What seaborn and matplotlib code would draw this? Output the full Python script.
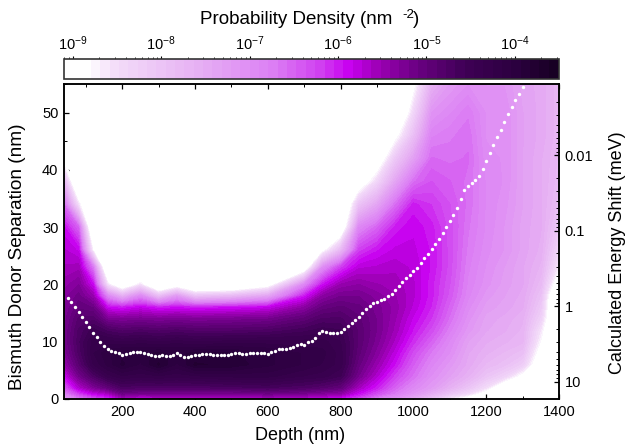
import numpy as np
import pandas as pd
import matplotlib
matplotlib.use("Agg")
import matplotlib.pyplot as plt
import seaborn as sns
from matplotlib.colors import LinearSegmentedColormap
from matplotlib.ticker import MultipleLocator, FixedLocator, FixedFormatter, NullFormatter

# log10 of the probability density, one list per depth
separations = [0, 1, 2, 4, 6, 8, 10, 12, 14, 16, 18, 20, 23, 26, 30, 34, 38, 42, 46, 50, 55]
density = {
    40: [-7.4, -6.8, -6.4, -5.9, -5.5, -5.3, -5.2, -5.2, -5.25, -5.3, -5.35, -5.45, -5.6, -5.7, -5.9, -6.6, -7.8, -9.2, -10, -10, -10],
    80: [-6.8, -6.2, -5.7, -5.2, -4.9, -4.75, -4.7, -4.75, -4.85, -5.0, -5.15, -5.3, -5.55, -5.85, -6.5, -8.6, -10, -10, -10, -10, -10],
    120: [-6.4, -5.8, -5.3, -4.75, -4.35, -4.25, -4.3, -4.5, -4.8, -5.1, -5.5, -5.9, -6.7, -8.8, -10, -10, -10, -10, -10, -10, -10],
    160: [-6.2, -5.6, -5.0, -4.4, -4.1, -4.05, -4.3, -4.7, -5.25, -5.9, -6.9, -8.6, -10, -10, -10, -10, -10, -10, -10, -10, -10],
    200: [-5.7, -5.1, -4.7, -4.25, -3.9, -3.95, -4.35, -4.8, -5.3, -6.0, -7.6, -9.6, -10, -10, -10, -10, -10, -10, -10, -10, -10],
    250: [-5.9, -5.2, -4.75, -4.3, -4.05, -3.95, -4.3, -4.75, -5.25, -5.85, -6.9, -8.6, -10, -10, -10, -10, -10, -10, -10, -10, -10],
    300: [-5.8, -5.2, -4.75, -4.25, -3.8, -3.9, -4.35, -4.8, -5.3, -6.0, -7.9, -10, -10, -10, -10, -10, -10, -10, -10, -10, -10],
    350: [-5.8, -5.2, -4.75, -4.3, -4.05, -3.95, -4.3, -4.75, -5.25, -5.95, -7.2, -9.3, -10, -10, -10, -10, -10, -10, -10, -10, -10],
    400: [-5.8, -5.2, -4.75, -4.25, -3.8, -3.9, -4.35, -4.8, -5.3, -6.0, -8.0, -10, -10, -10, -10, -10, -10, -10, -10, -10, -10],
    500: [-5.8, -5.2, -4.7, -4.2, -3.85, -3.9, -4.3, -4.8, -5.25, -5.95, -7.8, -10, -10, -10, -10, -10, -10, -10, -10, -10, -10],
    600: [-5.7, -5.1, -4.65, -4.2, -4.0, -4.0, -4.3, -4.75, -5.2, -5.85, -7.4, -9.2, -10, -10, -10, -10, -10, -10, -10, -10, -10],
    700: [-5.8, -5.2, -4.75, -4.35, -4.15, -4.15, -4.3, -4.6, -4.95, -5.4, -6.0, -6.9, -9.5, -10, -10, -10, -10, -10, -10, -10, -10],
    750: [-5.9, -5.3, -4.85, -4.4, -4.25, -4.2, -4.3, -4.5, -4.75, -5.05, -5.4, -5.95, -7.0, -9.0, -10, -10, -10, -10, -10, -10, -10],
    800: [-6.0, -5.4, -5.0, -4.55, -4.4, -4.4, -4.45, -4.55, -4.75, -4.95, -5.2, -5.5, -6.2, -7.8, -9.6, -10, -10, -10, -10, -10, -10],
    850: [-6.3, -5.9, -5.6, -5.2, -5.05, -4.95, -4.9, -4.9, -4.95, -5.05, -5.2, -5.4, -5.75, -6.2, -6.9, -8.0, -9.4, -10, -10, -10, -10],
    900: [-6.8, -6.3, -6.0, -5.7, -5.5, -5.35, -5.25, -5.2, -5.2, -5.25, -5.35, -5.5, -5.7, -5.95, -6.5, -7.4, -8.4, -9.4, -10, -10, -10],
    950: [-7.1, -6.7, -6.5, -6.2, -5.95, -5.8, -5.65, -5.55, -5.5, -5.45, -5.5, -5.55, -5.65, -5.8, -6.0, -6.6, -7.4, -8.1, -9.0, -10, -10],
    1000: [-7.5, -7.1, -6.9, -6.6, -6.45, -6.3, -6.1, -5.95, -5.85, -5.75, -5.7, -5.7, -5.75, -5.8, -5.85, -6.0, -6.6, -7.3, -7.9, -8.4, -9.0],
    1050: [-8.0, -7.5, -7.2, -7.0, -6.85, -6.7, -6.5, -6.3, -6.15, -6.05, -6.0, -6.0, -5.95, -5.95, -6.0, -6.15, -6.35, -6.55, -6.8, -7.1, -7.6],
    1100: [-8.7, -8.0, -7.6, -7.3, -7.15, -7.0, -6.9, -6.75, -6.6, -6.5, -6.4, -6.35, -6.3, -6.3, -6.3, -6.35, -6.45, -6.6, -6.7, -6.9, -7.2],
    1150: [-9.2, -8.4, -8.0, -7.6, -7.45, -7.4, -7.3, -7.15, -7.05, -6.95, -6.85, -6.8, -6.75, -6.7, -6.65, -6.6, -6.6, -6.55, -6.6, -6.7, -7.0],
    1200: [-10, -9.1, -8.5, -8.0, -7.75, -7.6, -7.5, -7.4, -7.35, -7.25, -7.15, -7.05, -7.0, -6.95, -6.9, -6.9, -6.9, -6.95, -7.0, -7.0, -7.1],
    1250: [-10, -10, -9.4, -8.3, -7.9, -7.75, -7.6, -7.5, -7.45, -7.35, -7.3, -7.25, -7.2, -7.1, -7.1, -7.05, -7.0, -7.0, -7.0, -7.0, -7.1],
    1300: [-10, -10, -9.7, -9.0, -8.2, -7.9, -7.7, -7.65, -7.6, -7.5, -7.45, -7.4, -7.4, -7.35, -7.35, -7.3, -7.3, -7.3, -7.3, -7.3, -7.35],
    1350: [-10, -10, -10, -9.8, -9.4, -9.1, -8.8, -8.6, -8.3, -8.1, -7.95, -7.8, -7.65, -7.55, -7.5, -7.5, -7.5, -7.5, -7.45, -7.45, -7.45],
    1400: [-10, -10, -10, -10, -10, -10, -10, -10, -10, -10, -10, -9.3, -8.7, -8.4, -8.1, -7.9, -7.8, -7.75, -7.7, -7.7, -7.7],
}

# white dotted curve
curve_depth = list(range(50, 1320, 10))
curve_sep = [17.6, 16.9, 16.0, 15.2, 14.4, 13.5, 12.5, 11.6, 10.8, 10.0, 9.3, 8.8, 8.4, 8.2, 8.0, 7.7,
             7.8, 8.0, 8.2, 8.2, 8.2, 8.0, 7.8, 7.6, 7.5, 7.5, 7.6, 7.5, 7.5, 7.7, 8.0, 7.7, 7.4, 7.4,
             7.5, 7.6, 7.6, 7.8, 7.8, 7.8, 7.6, 7.6, 7.6, 7.6, 7.6, 7.8, 8.1, 8.1, 7.9, 7.9, 8.0, 8.1,
             8.1, 8.0, 8.0, 7.9, 8.2, 8.4, 8.7, 8.8, 8.8, 8.9, 9.1, 9.5, 9.6, 9.5, 9.9, 10.2, 10.7,
             11.5, 11.8, 11.7, 11.5, 11.5, 11.6, 11.7, 12.2, 12.7, 13.2, 13.8, 14.4, 15.0, 15.7, 16.2,
             16.8, 17.0, 17.2, 17.4, 17.9, 18.4, 19.0, 19.7, 20.4, 21.2, 21.7, 22.3, 22.9, 23.7, 24.6,
             25.4, 26.2, 27.1, 28.0, 29.0, 30.0, 31.0, 32.1, 33.3, 35.0, 36.5, 37.2, 37.8, 38.2, 39.0,
             40.2, 41.5, 43.0, 44.4, 45.8, 47.0, 48.3, 49.7, 51.0, 52.2, 53.3, 54.5, 55.5]

cbar_ticks = [-9, -8, -7, -6, -5, -4]
cbar_labels = ["$10^{-9}$", "$10^{-8}$", "$10^{-7}$", "$10^{-6}$", "$10^{-5}$", "$10^{-4}$"]
energy_ticks = [0.01, 0.1, 1, 10]
energy_labels = ["0.01", "0.1", "1", "10"]

sns.set_theme(style="ticks")
plt.rcParams["font.family"] = ["Liberation Sans", "DejaVu Sans"]
plt.rcParams["mathtext.default"] = "regular"
plt.rcParams["axes.linewidth"] = 1.1
plt.rcParams["axes.edgecolor"] = "black"

W, H = 626, 447
fig = plt.figure(figsize=(W / 100, H / 100), dpi=100)
ax = fig.add_axes([64 / W, 1 - 399 / H, 495 / W, 315 / H])
cax = fig.add_axes([64 / W, 1 - 79 / H, 495 / W, 20 / H])

stops = [(0.0, "#ffffff"), (0.04, "#ffffff"), (0.1, "#f3dcf9"), (0.27, "#e6b0f3"), (0.42, "#dc80f4"),
         (0.52, "#d040f0"), (0.58, "#c800f0"), (0.64, "#9c00b4"), (0.72, "#6a0082"),
         (0.82, "#3e0054"), (0.92, "#2c0040"), (1.0, "#180024")]
cmap = LinearSegmentedColormap.from_list("density", stops, N=53)
levels = np.linspace(-9.1, -3.5, 54)

df = pd.DataFrame(density, index=separations)
cs = ax.contourf(df.columns, df.index, df.values, levels=levels, cmap=cmap)

curve = pd.DataFrame({"depth": curve_depth, "sep": curve_sep})
sns.scatterplot(data=curve, x="depth", y="sep", ax=ax, color="white", s=6, linewidth=0, clip_on=True, zorder=5)

ax.set_xlim(40, 1400)
ax.set_ylim(0, 55)
ax.set_xlabel("")
ax.set_ylabel("")
ax.xaxis.set_major_locator(MultipleLocator(200))
ax.xaxis.set_minor_locator(MultipleLocator(100))
ax.yaxis.set_major_locator(MultipleLocator(10))
ax.yaxis.set_minor_locator(MultipleLocator(5))
ax.tick_params(axis="x", which="both", direction="in", top=True, bottom=True, colors="black", labelsize=10.5, pad=4)
ax.tick_params(axis="y", which="both", direction="in", left=True, right=False, colors="black", labelsize=10.5, pad=4)
ax.tick_params(which="major", length=3.5, width=0.9)
ax.tick_params(which="minor", length=2, width=0.7)

# energy scale on the right, inverted log
ax2 = ax.twinx()
ax2.set_yscale("log")
ax2.set_ylim(16.9, 0.00115)
ax2.yaxis.set_major_locator(FixedLocator(energy_ticks))
ax2.yaxis.set_major_formatter(FixedFormatter(energy_labels))
ax2.yaxis.set_minor_formatter(NullFormatter())
ax2.tick_params(axis="y", which="both", direction="in", colors="black", labelsize=10.5, pad=4)
ax2.tick_params(which="major", length=3.5, width=0.9)
ax2.tick_params(which="minor", length=2, width=0.7)
ax2.grid(False)

cb = fig.colorbar(cs, cax=cax, orientation="horizontal")
cb.solids.set_edgecolor("face")
cb.set_ticks(cbar_ticks)
cb.set_ticklabels(cbar_labels)
minor = [d + np.log10(m) for d in range(-10, -3) for m in range(2, 10)]
cax.xaxis.set_ticks([t for t in minor if -9.1 < t < -3.5], minor=True)
cax.xaxis.set_ticks_position("top")
cax.tick_params(axis="x", which="major", direction="out", length=2.5, width=0.8, colors="black", labelsize=10.5, pad=2)
cax.tick_params(axis="x", which="minor", direction="out", length=1.2, width=0.6, colors="black")
cb.outline.set_edgecolor("#333333")
cb.outline.set_linewidth(1.2)

# labels placed by pixel, they sit off-centre in the original
fig.text(296 / W, 1 - 20 / H, "Probability Density (nm", fontsize=13.5, color="black", ha="center", va="center")
fig.text(402 / W, 1 - 15 / H, "-2", fontsize=9.5, color="black", ha="left", va="center")
fig.text(413 / W, 1 - 20 / H, ")", fontsize=13.5, color="black", ha="left", va="center")
fig.text(300 / W, 1 - 436 / H, "Depth (nm)", fontsize=13, color="black", ha="center", va="center")
fig.text(18 / W, 1 - 257 / H, "Bismuth Donor Separation (nm)", fontsize=13.7, color="black", rotation=90, ha="center", va="center")
fig.text(618 / W, 1 - 253 / H, "Calculated Energy Shift (meV)", fontsize=13, color="black", rotation=90, ha="center", va="center")

fig.savefig("out.png", dpi=100)
